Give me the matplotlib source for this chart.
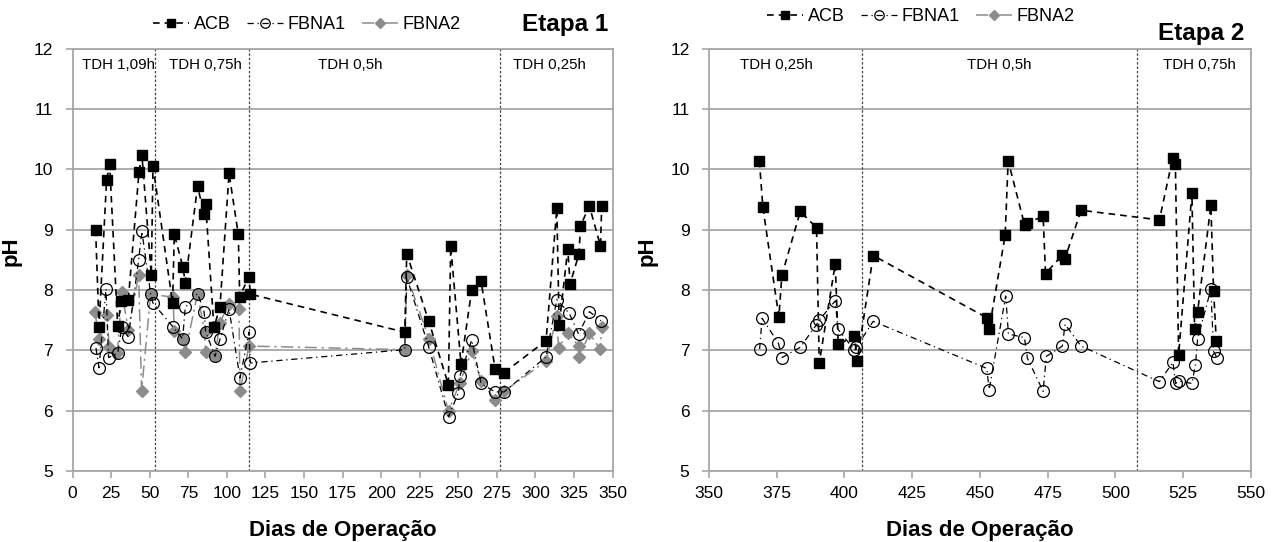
import numpy as np
import matplotlib
matplotlib.use('Agg')
import matplotlib.pyplot as plt
from matplotlib.lines import Line2D

plt.rcParams['font.family'] = ['Liberation Sans', 'DejaVu Sans']

# Etapa 1 - pH x dias de operacao
days_acb_1 = [14.9, 17.1, 22.0, 24.0, 29.2, 31.5, 36.1, 43.0, 44.9, 51.0, 52.1, 64.8, 65.9,
              71.5, 73.0, 81.0, 85.2, 86.2, 91.6, 95.5, 101.4, 107.4, 108.3, 114.3, 115.2,
              215.3, 216.6, 230.9, 243.6, 245.1, 251.8, 258.7, 264.8, 273.9, 279.7,
              306.9, 313.9, 315.4, 321.0, 322.5, 328.3, 329.2, 335.0, 342.2, 343.0]
ph_acb_1 = [9.00, 7.39, 9.82, 10.08, 7.40, 7.82, 7.84, 9.95, 10.24, 8.25, 10.05, 7.78, 8.92,
            8.38, 8.12, 9.72, 9.25, 9.43, 7.38, 7.72, 9.93, 8.92, 7.89, 8.22, 7.93,
            7.30, 8.60, 7.48, 6.43, 8.73, 6.77, 8.00, 8.14, 6.69, 6.63,
            7.16, 9.35, 7.42, 8.68, 8.10, 8.60, 9.06, 9.39, 8.73, 9.39]

days_fbna1_1 = [15.1, 17.1, 21.6, 23.3, 29.2, 31.9, 36.1, 42.8, 44.9, 50.6, 52.1, 65.3, 71.3,
                73.0, 81.0, 85.2, 86.2, 92.3, 95.5, 101.4, 108.5, 114.3, 115.2,
                215.3, 216.6, 230.9, 243.7, 250.0, 251.0, 258.7, 264.8, 273.9, 279.7,
                306.9, 313.9, 322.0, 328.0, 335.0, 342.6]
ph_fbna1_1 = [7.04, 6.71, 8.02, 6.88, 6.95, 7.38, 7.22, 8.50, 8.97, 7.93, 7.78, 7.38, 7.19,
              7.71, 7.94, 7.64, 7.31, 6.90, 7.18, 7.68, 6.54, 7.30, 6.79,
              7.01, 8.21, 7.05, 5.90, 6.29, 6.57, 7.17, 6.45, 6.31, 6.31,
              6.89, 7.84, 7.61, 7.27, 7.64, 7.49]

days_fbna2_1 = [14.5, 17.1, 22.0, 23.8, 29.0, 31.9, 36.1, 42.8, 44.7, 50.6, 65.0, 66.0, 71.3,
                73.0, 81.0, 85.5, 86.2, 92.3, 95.5, 101.4, 107.8, 108.5, 114.3,
                215.3, 216.6, 230.9, 243.7, 251.0, 258.7, 264.8, 273.9, 279.7,
                306.9, 313.9, 315.0, 321.0, 328.0, 328.5, 335.0, 342.0, 343.0]
ph_fbna2_1 = [7.63, 7.18, 7.59, 7.06, 6.96, 7.96, 7.33, 8.24, 6.33, 7.93, 7.88, 7.32, 7.19,
              6.97, 7.94, 7.31, 6.97, 6.90, 7.46, 7.77, 7.68, 6.32, 7.07,
              7.01, 8.25, 7.19, 5.99, 6.46, 6.99, 6.49, 6.18, 6.32,
              6.82, 7.57, 7.04, 7.29, 7.07, 6.89, 7.28, 7.02, 7.38]

# Etapa 2
days_acb_2 = [368.6, 369.9, 375.8, 376.9, 383.7, 389.7, 390.7, 396.6, 397.7, 403.7, 404.7,
              410.6, 452.5, 453.4, 459.3, 460.4, 466.5, 467.5, 473.3, 474.2, 480.4, 481.3,
              487.3, 516.2, 521.1, 522.1, 523.3, 528.2, 529.2, 530.3, 535.2, 536.2, 537.2]
ph_acb_2 = [10.14, 9.37, 7.55, 8.24, 9.30, 9.03, 6.79, 8.43, 7.10, 7.23, 6.83,
            8.57, 7.54, 7.35, 8.91, 10.14, 9.07, 9.11, 9.22, 8.27, 8.58, 8.51,
            9.32, 9.16, 10.18, 10.08, 6.93, 9.60, 7.36, 7.64, 9.40, 7.99, 7.15]

days_fbna1_2 = [368.7, 369.6, 375.6, 377.0, 383.7, 389.6, 390.7, 396.6, 397.6, 403.7, 404.4,
                410.6, 452.5, 453.4, 459.5, 460.5, 466.4, 467.5, 473.3, 474.5, 480.4, 481.4,
                487.3, 516.2, 521.2, 522.2, 523.3, 528.2, 529.5, 530.3, 535.2, 536.2, 537.4]
ph_fbna1_2 = [7.02, 7.53, 7.12, 6.88, 7.05, 7.42, 7.50, 7.82, 7.35, 7.00, 7.05,
              7.48, 6.70, 6.35, 7.90, 7.27, 7.21, 6.87, 6.32, 6.90, 7.07, 7.43,
              7.07, 6.48, 6.80, 6.45, 6.49, 6.45, 6.76, 7.19, 8.01, 6.98, 6.88]

days_fbna2_2 = []
ph_fbna2_2 = []

tdh_1 = [('TDH 1,09h', 30), ('TDH 0,75h', 86), ('TDH 0,5h', 180), ('TDH 0,25h', 309)]
tdh_2 = [('TDH 0,25h', 375), ('TDH 0,5h', 457), ('TDH 0,75h', 531)]
div_1 = [53.3, 114.3, 276.8]
div_2 = [406.3, 507.8]

GRID = '#a6a6a6'
GRAY = '#8c8c8c'

acb_style = dict(color='black', lw=1.2, ls=(0, (4, 3)), marker='s', ms=7,
                 mfc='black', mec='black', zorder=5)
f1_style = dict(color='black', lw=0.9, ls=(0, (5, 3, 1, 3)), marker='o', ms=8.5,
                mfc='none', mec='black', mew=0.9, zorder=4)
f2_style = dict(color=GRAY, lw=1.1, ls=(0, (8, 3, 1.5, 3)), marker='D', ms=6.5,
                mfc=GRAY, mec=GRAY, zorder=3)


def setup(ax, xlim, xstep, tdh, divs):
    ax.set_xlim(*xlim)
    ax.set_ylim(5, 12)
    ax.set_xticks(np.arange(xlim[0], xlim[1] + 1, xstep))
    ax.set_yticks(range(5, 13))
    for y in range(5, 13):
        ax.axhline(y, color=GRID, lw=1.3, zorder=0)
    for s in ax.spines.values():
        s.set_color(GRID)
        s.set_linewidth(1.3)
    ax.tick_params(axis='both', colors=GRID, length=5, width=1.2, labelsize=12.5,
                   labelcolor='black')
    ax.tick_params(axis='y', pad=9)
    ax.tick_params(axis='x', pad=6)
    for d in divs:
        ax.axvline(d, color='#444444', lw=0.9, ls=(0, (2, 1.5)), zorder=1)
    for txt, x in tdh:
        ax.text(x, 11.73, txt, ha='center', va='center', fontsize=10.8)
    ax.set_ylabel('pH', fontsize=16, fontweight='bold')
    ax.yaxis.set_label_coords(-0.094, 0.52)
    ax.set_xlabel('Dias de Operação', fontsize=16, fontweight='bold')
    ax.xaxis.set_label_coords(0.5, -0.142)
    ax.xaxis.label.set_va('center')


def legend(ax, x, y):
    h = [Line2D([], [], **acb_style), Line2D([], [], **f1_style), Line2D([], [], **f2_style)]
    for l in h:
        l.set_markersize(l.get_markersize() * 0.8)
    ax.legend(h, ['ACB', 'FBNA1', 'FBNA2'], loc='center', ncol=3, frameon=False,
              bbox_to_anchor=(x, y), bbox_transform=ax.figure.transFigure,
              fontsize=13, handlelength=2.0, handletextpad=0.25, columnspacing=0.9)


fig = plt.figure(figsize=(12.79, 5.42), dpi=100)
ax1 = fig.add_axes([0.0568, 0.131, 0.4221, 0.7795])
ax2 = fig.add_axes([0.5543, 0.131, 0.4238, 0.7795])

ax1.plot(days_acb_1, ph_acb_1, **acb_style)
ax1.plot(days_fbna1_1, ph_fbna1_1, **f1_style)
ax1.plot(days_fbna2_1, ph_fbna2_1, **f2_style)
setup(ax1, (0, 350), 25, tdh_1, div_1)
legend(ax1, 0.240, 0.954)

ax2.plot(days_acb_2, ph_acb_2, **acb_style)
ax2.plot(days_fbna1_2, ph_fbna1_2, **f1_style)
ax2.plot(days_fbna2_2, ph_fbna2_2, **f2_style)
setup(ax2, (350, 550), 25, tdh_2, div_2)
legend(ax2, 0.720, 0.969)

fig.text(0.4754, 0.9557, 'Etapa 1', ha='right', va='center', fontsize=17.5, fontweight='bold')
fig.text(0.9726, 0.9373, 'Etapa 2', ha='right', va='center', fontsize=17.5, fontweight='bold')

fig.savefig('out.png', dpi=100)
